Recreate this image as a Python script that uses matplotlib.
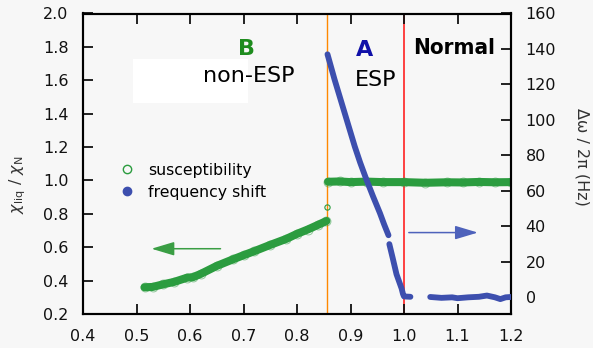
import matplotlib
matplotlib.use("Agg")
import matplotlib.pyplot as plt
from matplotlib.lines import Line2D
from matplotlib.patches import Rectangle

# --- data ---------------------------------------------------------------
# reduced temperature T/Tc
chi_T_low = [0.515, 0.530, 0.550, 0.570, 0.595, 0.605, 0.620, 0.650, 0.680,
             0.700, 0.720, 0.750, 0.780, 0.800, 0.820, 0.840, 0.855]
chi_low = [0.360, 0.362, 0.378, 0.392, 0.418, 0.420, 0.440, 0.488, 0.527,
           0.552, 0.576, 0.614, 0.650, 0.680, 0.706, 0.735, 0.757]
chi_T_high = [0.858, 0.880, 0.900, 0.930, 0.960, 1.000, 1.040, 1.080, 1.110,
              1.140, 1.170, 1.200]
chi_high = [0.992, 0.994, 0.990, 0.993, 0.990, 0.990, 0.986, 0.989, 0.988,
            0.991, 0.989, 0.990]
chi_T_single = [0.856]
chi_single = [0.838]

# frequency shift (Hz) in the ESP (A) phase and normal phase
f_T_a = [0.857, 0.870, 0.880, 0.893, 0.908, 0.918, 0.929, 0.942, 0.955,
         0.963, 0.971]
f_a = [137, 123, 113, 100, 85, 76, 67, 57, 47.5, 41, 35]
f_T_b = [0.9726, 0.979, 0.986, 0.9955, 0.998, 1.000, 1.012]
f_b = [30, 22, 13, 5, 2, 0.5, 0.3]
f_T_n = [1.049, 1.070, 1.090, 1.100, 1.120, 1.140, 1.155, 1.170, 1.180,
         1.190, 1.200]
f_n = [0.2, -0.3, 0.0, -0.5, 0.0, 0.3, 1.0, 0.0, -1.0, 0.0, 0.2]

T_ab = 0.857   # A-B transition
T_c = 1.0      # superfluid transition

x_ticks = [0.4, 0.5, 0.6, 0.7, 0.8, 0.9, 1.0, 1.1, 1.2]
y_ticks = [0.2, 0.4, 0.6, 0.8, 1.0, 1.2, 1.4, 1.6, 1.8, 2.0]
y2_ticks = [0, 20, 40, 60, 80, 100, 120, 140, 160]

# --- style --------------------------------------------------------------
GREEN = "#2b9c3f"
BLUE = "#3d4fae"
BG = "#f7f7f7"

plt.rcParams["font.family"] = ["DejaVu Sans"]
plt.rcParams["mathtext.fontset"] = "dejavusans"

W, H = 593, 348
fig = plt.figure(figsize=(W / 100, H / 100), dpi=100, facecolor=BG)
ax = fig.add_axes([83 / W, 1 - 314 / H, (511 - 83) / W, (314 - 13.5) / H])
ax.set_facecolor(BG)
ax2 = ax.twinx()

ax.set_xlim(0.4, 1.2)
ax.set_ylim(0.2, 2.0)
ax2.set_ylim(-9.4, 160)

ax.add_patch(Rectangle((0.4935, 1.463), 0.2145, 0.264, facecolor="white",
                       edgecolor="none", zorder=0))

ax.axvline(T_ab, color="#ff8800", lw=1.0, zorder=1)
ax.axvline(T_c, color="#ff1010", lw=1.1, zorder=1)

# susceptibility
for xs, ys in ((chi_T_low, chi_low), (chi_T_high, chi_high)):
    ax.plot(xs, ys, color=GREEN, lw=5.8, solid_capstyle="round", zorder=2)
    ax.plot(xs, ys, ls="none", marker="o", ms=6.4, mfc="none", mec=GREEN,
            mew=0.7, alpha=0.5, zorder=2)
ax.plot(chi_T_single, chi_single, ls="none", marker="o", ms=3.8, mfc="none",
        mec=GREEN, mew=0.8, zorder=2)

# frequency shift
for xs, ys in ((f_T_a, f_a), (f_T_b, f_b), (f_T_n, f_n)):
    ax2.plot(xs, ys, color=BLUE, lw=4.2, solid_capstyle="round", zorder=3)

# arrows pointing to the relevant axes
ax.annotate("", xy=(0.528, 0.591), xytext=(0.657, 0.591),
            arrowprops=dict(arrowstyle="-|>,head_length=1.4,head_width=0.42",
                            color="#3a9e44", lw=1.1, mutation_scale=10,
                            shrinkA=0, shrinkB=0))
ax2.annotate("", xy=(1.138, 36.5), xytext=(1.009, 36.5),
             arrowprops=dict(arrowstyle="-|>,head_length=1.4,head_width=0.42",
                             color="#4e62bb", lw=1.1, mutation_scale=10,
                             shrinkA=0, shrinkB=0))

# phase labels
ax.text(0.7047, 1.751, "B", color="#1e8c1e", fontsize=16, fontweight="bold",
        ha="center", va="baseline")
ax.text(0.6243, 1.589, "non-ESP", color="black", fontsize=16, ha="left",
        va="baseline")
ax.text(0.9103, 1.745, "A", color="#1010a8", fontsize=16, fontweight="bold",
        ha="left", va="baseline")
ax.text(0.9084, 1.565, "ESP", color="black", fontsize=16, ha="left",
        va="baseline")
ax.text(1.0174, 1.757, "Normal", color="black", fontsize=16,
        fontweight="bold", fontstretch="condensed", ha="left",
        va="baseline")

# axes styling
for a in (ax, ax2):
    for s in a.spines.values():
        s.set_linewidth(1.5)
ax.set_xticks(x_ticks)
ax.set_xticklabels([f"{v:.1f}" for v in x_ticks])
ax.set_yticks(y_ticks)
ax.set_yticklabels([f"{v:.1f}" for v in y_ticks])
ax2.set_yticks(y2_ticks)
ax.tick_params(axis="x", direction="in", top=True, length=7, width=1.3,
               pad=11, labelsize=11.5, colors="#111111")
ax.tick_params(axis="y", direction="in", length=7, width=1.3, pad=10.5,
               labelsize=11.5, colors="#111111")
ax2.tick_params(axis="y", direction="in", length=7, width=1.3, pad=10.5,
                labelsize=11.5, colors="#111111")

fig.text(18 / W, 1 - 185 / H, r"$\chi_{\rm liq}$ / $\chi_{\rm N}$",
         rotation=90, ha="center", va="center", fontsize=11.5,
         color="#333333")
fig.text(582 / W, 1 - 157 / H, "Δω / 2π (Hz)", rotation=270, ha="center",
         va="center", fontsize=11.5, color="#333333")

handles = [
    Line2D([], [], ls="none", marker="o", ms=6, mfc="none", mec=GREEN,
           mew=1.0),
    Line2D([], [], ls="none", marker="o", ms=6, mfc=BLUE, mec=BLUE),
]
ax2.legend(handles, ["susceptibility", "frequency shift"], loc="upper left",
           bbox_to_anchor=(119.2 / W, 1 - 162.6 / H),
           bbox_transform=fig.transFigure, frameon=False, fontsize=11.3,
           handlelength=1.0, handletextpad=0.85, labelspacing=0.45,
           borderpad=0, borderaxespad=0)

fig.savefig("out.png", dpi=100, facecolor=BG)
